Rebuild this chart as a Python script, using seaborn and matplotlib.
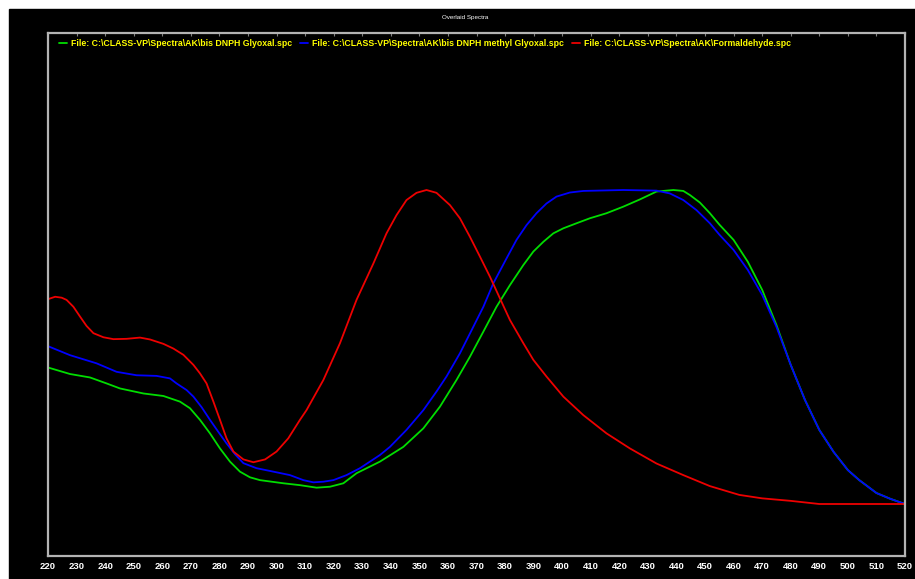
import numpy as np
import pandas as pd
import matplotlib
matplotlib.use("Agg")
import matplotlib.pyplot as plt
from matplotlib.patches import Rectangle
from matplotlib.ticker import MultipleLocator
from matplotlib.font_manager import FontProperties
import seaborn as sns

# Spectra (wavelength in nm, normalised absorbance)
glyoxal_nm = [219.9, 227.7, 234.7, 240.5, 245.2, 253.4, 260.4, 266.2, 269.7, 273.2,
              276.7, 280.2, 283.7, 287.2, 290.7, 294.2, 302.4, 308.2, 314.0, 318.7,
              323.4, 328.0, 336.2, 344.4, 351.4, 357.2, 363.0, 367.7, 372.4, 377.0,
              381.7, 386.4, 389.9, 393.4, 396.9, 400.4, 405.0, 409.7, 415.5, 421.4,
              427.2, 433.0, 438.9, 442.4, 444.7, 448.2, 451.7, 455, 460, 465,
              470, 475, 480, 485, 490, 495, 500, 504, 510, 515, 520]
glyoxal_abs = [0.435, 0.414, 0.403, 0.384, 0.368, 0.352, 0.344, 0.326, 0.305, 0.268,
               0.225, 0.177, 0.135, 0.103, 0.085, 0.076, 0.066, 0.060, 0.052, 0.055,
               0.066, 0.098, 0.135, 0.182, 0.241, 0.310, 0.395, 0.469, 0.549, 0.628,
               0.697, 0.761, 0.804, 0.835, 0.862, 0.878, 0.894, 0.910, 0.926, 0.947,
               0.970, 0.995, 1.000, 0.997, 0.984, 0.960, 0.926, 0.890, 0.841, 0.771,
               0.682, 0.570, 0.443, 0.331, 0.236, 0.166, 0.108, 0.076, 0.035, 0.016, 0.0]

methyl_nm = [219.9, 227.7, 237.0, 244.0, 251.0, 258.0, 262.7, 265.0, 268.5, 270.9,
             273.8, 276.7, 279.6, 282.5, 285.5, 288.4, 293.0, 298.9, 304.7, 309.4,
             312.9, 316.4, 319.9, 324.5, 329.2, 336.2, 339.7, 345.5, 351.4, 356.0,
             359.5, 364.2, 367.7, 372.4, 375.9, 380.5, 384.0, 387.5, 391.0, 394.5,
             398.0, 402.7, 407.4, 421.4, 433.0, 437.7, 442.4, 447.0, 451.7, 455,
             460, 465, 470, 475, 480, 485, 490, 495, 500, 504, 510, 515, 520]
methyl_abs = [0.503, 0.474, 0.448, 0.421, 0.410, 0.408, 0.400, 0.384, 0.363, 0.342,
              0.308, 0.268, 0.230, 0.193, 0.158, 0.130, 0.114, 0.103, 0.092, 0.076,
              0.069, 0.071, 0.076, 0.092, 0.114, 0.156, 0.182, 0.236, 0.299, 0.358,
              0.406, 0.480, 0.543, 0.628, 0.703, 0.782, 0.841, 0.888, 0.926, 0.957,
              0.979, 0.992, 0.997, 1.000, 0.998, 0.989, 0.968, 0.936, 0.894, 0.858,
              0.809, 0.745, 0.666, 0.564, 0.443, 0.331, 0.236, 0.166, 0.108, 0.076,
              0.035, 0.016, 0.0]

formal_nm = [219.9, 222.5, 224.8, 226.5, 228.9, 231.2, 233.5, 235.9, 239.4, 242.9,
             247.5, 252.2, 255.7, 260.4, 263.9, 267.4, 270.9, 273.2, 275.5, 277.9,
             280.2, 282.5, 284.9, 288.4, 291.9, 296.0, 300.0, 304.1, 308.2, 310.5,
             316.4, 322.2, 328.0, 333.9, 338.5, 342.0, 345.5, 349.0, 352.5, 356.0,
             360.7, 364.2, 367.7, 371.2, 374.7, 378.2, 381.7, 386.4, 389.9, 394.5,
             400.4, 407.4, 415.5, 423.7, 433.0, 442.4, 451.7, 462, 470, 480,
             485, 490, 500, 520]
formal_abs = [0.652, 0.660, 0.657, 0.650, 0.628, 0.597, 0.567, 0.544, 0.531, 0.525,
              0.526, 0.530, 0.524, 0.510, 0.495, 0.475, 0.443, 0.416, 0.384, 0.326,
              0.268, 0.209, 0.167, 0.142, 0.133, 0.142, 0.167, 0.209, 0.268, 0.299,
              0.395, 0.512, 0.650, 0.766, 0.862, 0.920, 0.968, 0.991, 1.000, 0.991,
              0.952, 0.910, 0.851, 0.788, 0.724, 0.655, 0.586, 0.512, 0.459, 0.406,
              0.342, 0.283, 0.225, 0.177, 0.129, 0.092, 0.057, 0.029, 0.018, 0.010,
              0.005, 0.0, 0.0, 0.0]

files = [r"File: C:\CLASS-VP\Spectra\AK\bis DNPH Glyoxal.spc",
         r"File: C:\CLASS-VP\Spectra\AK\bis DNPH methyl Glyoxal.spc",
         r"File: C:\CLASS-VP\Spectra\AK\Formaldehyde.spc"]
colors = ["#00dd00", "#0000ff", "#ee0000"]

df = pd.concat([
    pd.DataFrame({"nm": glyoxal_nm, "abs": glyoxal_abs, "file": files[0]}),
    pd.DataFrame({"nm": methyl_nm, "abs": methyl_abs, "file": files[1]}),
    pd.DataFrame({"nm": formal_nm, "abs": formal_abs, "file": files[2]}),
], ignore_index=True)

sns.set_style("dark")
plt.rcParams["font.family"] = ["Liberation Sans", "DejaVu Sans"]

W, H = 915, 579
fig = plt.figure(figsize=(W / 100, H / 100), dpi=100, facecolor="white")
fig.patches.append(Rectangle((9 / W, 0), 1 - 9 / W, 1 - 9 / H,
                             transform=fig.transFigure, color="black", zorder=-10))

ax = fig.add_axes([48 / W, (H - 556) / H, (905 - 48) / W, (556 - 33) / H])
ax.set_facecolor("black")

sns.lineplot(data=df, x="nm", y="abs", hue="file", hue_order=files,
             palette=colors, linewidth=1.3, ax=ax, sort=False)

ax.set_xlim(220, 520)
ax.set_ylim(-0.1656, 1.5)
ax.set_xlabel("")
ax.set_ylabel("")
ax.set_yticks([])
ax.grid(False)

for side in ["left", "right", "top", "bottom"]:
    ax.spines[side].set_visible(True)
    ax.spines[side].set_color("#b4b4b4")
    ax.spines[side].set_linewidth(1.6)

ax.xaxis.set_major_locator(MultipleLocator(10))
ax.xaxis.set_minor_locator(MultipleLocator(2))
tick_font = FontProperties(family=["Liberation Sans", "DejaVu Sans"],
                           weight="bold", size=6.8)
ax.tick_params(axis="x", which="major", direction="in", length=3.5, width=0.8,
               color="#b4b4b4", labelcolor="white", pad=4)
ax.tick_params(axis="x", which="minor", direction="in", length=1.8, width=0.6,
               color="#b4b4b4")
for lab in ax.get_xticklabels():
    lab.set_fontproperties(tick_font)

top = ax.secondary_xaxis("top")
top.xaxis.set_major_locator(MultipleLocator(10))
top.tick_params(axis="x", direction="in", length=2, width=0.8, color="#808080",
                labeltop=False)
top.spines["top"].set_visible(False)

fig.text(465 / W, 1 - 17 / H, "Overlaid Spectra", color="white", fontsize=4.5,
         ha="center", va="center")

leg_font = FontProperties(family=["Liberation Sans", "DejaVu Sans"],
                          weight="bold", size=6.3)
ax.legend(loc="upper left", bbox_to_anchor=(0.009, 0.995), ncol=3, frameon=False,
          handlelength=0.9, handletextpad=0.4, columnspacing=1.0,
          labelcolor="#ffff00", prop=leg_font, borderaxespad=0)

fig.savefig("out.png", dpi=100, facecolor="white")
